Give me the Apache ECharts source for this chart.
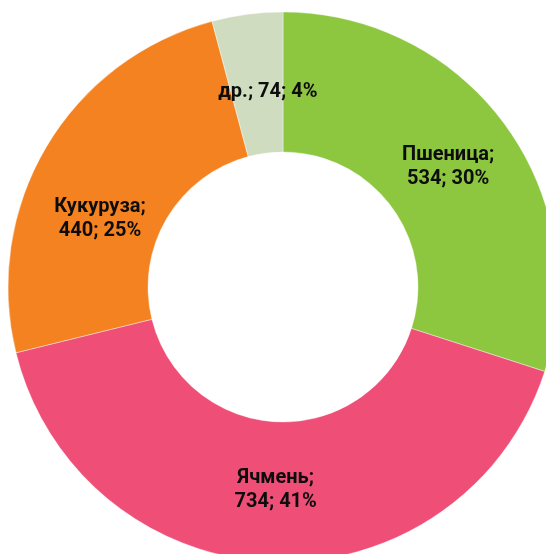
<!DOCTYPE html>
<html>
<head>
<meta charset="utf-8">
<script src="https://cdn.jsdelivr.net/npm/echarts@6/dist/echarts.min.js"></script>
<style>
  html, body { margin: 0; padding: 0; background: #fff; }
  #chart { width: 546px; height: 554px; }
</style>
</head>
<body>
<div id="chart"></div>
<script>
var crops = ['Пшеница', 'Ячмень', 'Кукуруза', 'др.'];
var harvest = [534, 734, 440, 74];
var colors = ['#8dc63f', '#ef4f77', '#f58220', '#cfdcbf'];

// hand-placed label nudges, as in the original sheet
var labelShift = [[-3, 2], [0, -5], [-4, 38], [12, 11]];

var chart = echarts.init(document.getElementById('chart'));
chart.setOption({
  animation: false,
  series: [{
    type: 'pie',
    center: [283, 287],
    radius: [135, 275],
    startAngle: 90,
    clockwise: true,
    percentPrecision: 0,
    itemStyle: { borderColor: '#fff', borderWidth: 0.4 },
    label: {
      show: true,
      position: 'inside',
      color: '#0d0d0d',
      fontFamily: '"Liberation Sans Narrow", Roboto, sans-serif',
      fontWeight: 'bold',
      fontSize: 20,
      lineHeight: 24,
      formatter: function (p) {
        // short name fits on one line
        var sep = p.name.length < 5 ? ' ' : '\n';
        return p.name + ';' + sep + p.value + '; ' + p.percent + '%';
      }
    },
    labelLayout: function (p) {
      var s = labelShift[p.dataIndex];
      return { dx: s[0], dy: s[1] };
    },
    labelLine: { show: false },
    data: crops.map(function (c, i) {
      return { name: c, value: harvest[i], itemStyle: { color: colors[i] } };
    })
  }]
});
</script>
</body>
</html>
